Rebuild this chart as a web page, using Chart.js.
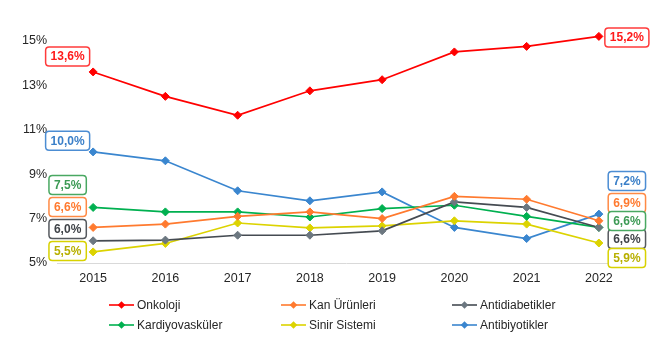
<!DOCTYPE html>
<html>
<head>
<meta charset="utf-8">
<script src="https://cdn.jsdelivr.net/npm/chart.js@4/dist/chart.umd.min.js"></script>
<style>
  html, body { margin: 0; padding: 0; background: #fff; }
  #wrap { width: 650px; height: 341px; position: relative; }
</style>
</head>
<body>
<div id="wrap"><canvas id="c" width="650" height="341"></canvas></div>
<script>
// Years on the x axis
const years = ['2015', '2016', '2017', '2018', '2019', '2020', '2021', '2022'];

// Share of each therapeutic area (%)
const onkoloji        = [13.6, 12.5, 11.65, 12.75, 13.25, 14.5, 14.75, 15.2];
const kanUrunleri     = [6.6, 6.75, 7.1, 7.3, 7.0, 8.0, 7.87, 6.9];
const antidiabetikler = [6.0, 6.03, 6.25, 6.25, 6.45, 7.75, 7.5, 6.6];
const kardiyovaskuler = [7.5, 7.3, 7.3, 7.07, 7.45, 7.6, 7.1, 6.6];
const sinirSistemi    = [5.5, 5.88, 6.8, 6.58, 6.67, 6.9, 6.75, 5.9];
const antibiyotikler  = [10.0, 9.6, 8.25, 7.8, 8.2, 6.6, 6.1, 7.2];

// Series names
const seriesNames = ['Onkoloji', 'Kan Ürünleri', 'Antidiabetikler', 'Kardiyovasküler', 'Sinir Sistemi', 'Antibiyotikler'];

// Y axis tick values
const yTicks = [5, 7, 9, 11, 13, 15];

// Styling per series: line colour, marker colour, label text colour, label border colour
const styles = [
  { line: '#FF0000', marker: '#FF0000', text: '#FF1A1A', border: '#FF3B3B' },
  { line: '#FF7A2F', marker: '#FF7A2F', text: '#FF7A2F', border: '#FF8A45' },
  { line: '#454B52', marker: '#6C7780', text: '#3F4348', border: '#55595E' },
  { line: '#00B050', marker: '#00B050', text: '#3D9A55', border: '#49A862' },
  { line: '#DCD300', marker: '#DCD300', text: '#B8B000', border: '#D8D200' },
  { line: '#3A86CF', marker: '#3A86CF', text: '#3A7FC8', border: '#4C8DD3' }
];

// Where the first/last value boxes sit vertically (in axis units), stacked so they do not collide
const leftLabelAt  = [14.3, 7.52, 6.53, 8.51, 5.54, 10.5];
const rightLabelAt = [15.15, 7.7, 6.08, 6.89, 5.23, 8.69];

const seriesValues = [onkoloji, kanUrunleri, antidiabetikler, kardiyovaskuler, sinirSistemi, antibiyotikler];

const datasets = seriesValues.map((vals, i) => ({
  label: seriesNames[i],
  data: vals,
  borderColor: styles[i].line,
  backgroundColor: styles[i].marker,
  pointBackgroundColor: styles[i].marker,
  pointBorderColor: styles[i].marker,
  pointStyle: 'rectRot',
  pointRadius: 4,
  pointBorderWidth: 1,
  borderWidth: 1.7,
  tension: 0,
  clip: false
}));

const fmt = v => v.toFixed(1).replace('.', ',') + '%';

function roundRect(ctx, x, y, w, h, r) {
  ctx.beginPath();
  ctx.moveTo(x + r, y);
  ctx.lineTo(x + w - r, y);
  ctx.quadraticCurveTo(x + w, y, x + w, y + r);
  ctx.lineTo(x + w, y + h - r);
  ctx.quadraticCurveTo(x + w, y + h, x + w - r, y + h);
  ctx.lineTo(x + r, y + h);
  ctx.quadraticCurveTo(x, y + h, x, y + h - r);
  ctx.lineTo(x, y + r);
  ctx.quadraticCurveTo(x, y, x + r, y);
  ctx.closePath();
}

// Boxed value labels at the first and last year of each series
const endLabels = {
  id: 'endLabels',
  afterDatasetsDraw(chart) {
    const ctx = chart.ctx;
    const xs = chart.scales.x, ys = chart.scales.y;
    const n = years.length;
    ctx.save();
    ctx.font = 'bold 12px "Liberation Sans", Arial, sans-serif';
    ctx.textAlign = 'center';
    ctx.textBaseline = 'middle';
    const drawBox = (cx, cy, text, st) => {
      const tw = ctx.measureText(text).width;
      const w = tw + 10, h = 19;
      roundRect(ctx, cx - w / 2, cy - h / 2, w, h, 3.5);
      ctx.fillStyle = '#fff';
      ctx.fill();
      ctx.lineWidth = 1.5;
      ctx.strokeStyle = st.border;
      ctx.stroke();
      ctx.fillStyle = st.text;
      ctx.fillText(text, cx, cy + 0.5);
    };
    seriesValues.forEach((vals, i) => {
      const x0 = xs.getPixelForValue(0) - 25.5;
      const x1 = xs.getPixelForValue(n - 1) + 28;
      drawBox(x0, ys.getPixelForValue(leftLabelAt[i]), fmt(vals[0]), styles[i]);
      drawBox(x1, ys.getPixelForValue(rightLabelAt[i]), fmt(vals[n - 1]), styles[i]);
    });
    ctx.restore();
  }
};

// Three-column legend below the plot
const gridLegend = {
  id: 'gridLegend',
  afterDraw(chart) {
    const ctx = chart.ctx;
    const colX = [109, 281, 452];
    const rowY = [305, 325];
    ctx.save();
    ctx.font = '12px "Liberation Sans", Arial, sans-serif';
    ctx.textBaseline = 'middle';
    ctx.textAlign = 'left';
    chart.data.datasets.forEach((ds, i) => {
      const x = colX[i % 3], y = rowY[Math.floor(i / 3)];
      ctx.strokeStyle = styles[i].line;
      ctx.lineWidth = 1.6;
      ctx.beginPath();
      ctx.moveTo(x, y);
      ctx.lineTo(x + 25, y);
      ctx.stroke();
      ctx.fillStyle = styles[i].marker;
      const r = 3.8, cx = x + 12.5;
      ctx.beginPath();
      ctx.moveTo(cx, y - r);
      ctx.lineTo(cx + r, y);
      ctx.lineTo(cx, y + r);
      ctx.lineTo(cx - r, y);
      ctx.closePath();
      ctx.fill();
      ctx.fillStyle = '#262626';
      ctx.fillText(ds.label, x + 28, y + 0.5);
    });
    ctx.restore();
  }
};

new Chart(document.getElementById('c'), {
  type: 'line',
  data: { labels: years, datasets },
  plugins: [endLabels, gridLegend],
  options: {
    responsive: false,
    animation: false,
    layout: { padding: { left: 0, right: 15, top: 0, bottom: 47 } },
    plugins: {
      legend: { display: false },
      tooltip: { enabled: false }
    },
    scales: {
      x: {
        offset: true,
        grid: { display: false, drawTicks: false },
        border: { display: true, color: '#D9D9D9', width: 1 },
        ticks: {
          color: '#262626',
          padding: 8,
          font: { family: '"Liberation Sans", Arial, sans-serif', size: 12.5 }
        }
      },
      y: {
        min: 5,
        max: 16.05,
        afterBuildTicks(scale) { scale.ticks = yTicks.map(v => ({ value: v })); },
        afterFit(scale) { scale.width = 57; },
        grid: { display: false, drawTicks: false },
        border: { display: false },
        ticks: {
          color: '#262626',
          padding: 10,
          font: { family: '"Liberation Sans", Arial, sans-serif', size: 12.5 },
          callback: v => v + '%'
        }
      }
    }
  }
});
</script>
</body>
</html>
